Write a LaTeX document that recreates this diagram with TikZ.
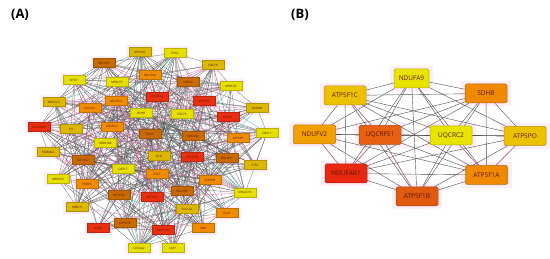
\documentclass[tikz,border=0pt]{standalone}
\usepackage{fontspec}
\setsansfont{Open Sans}
\pgfdeclarelayer{glow}
\pgfdeclarelayer{edges}
\pgfsetlayers{glow,edges,main}
\definecolor{cY}{HTML}{E6E000}
\definecolor{cG}{HTML}{DDB800}
\definecolor{cO}{HTML}{F08C00}
\definecolor{cD}{HTML}{C86A00}
\definecolor{cR}{HTML}{E83010}
\definecolor{bY}{HTML}{E8E400}
\definecolor{bG}{HTML}{ECC200}
\definecolor{bO}{HTML}{F08800}
\definecolor{bL}{HTML}{F2A000}
\definecolor{bOR}{HTML}{E86010}
\definecolor{bR}{HTML}{E82810}
\definecolor{bRO}{HTML}{E05A10}
\definecolor{glowpink}{HTML}{FDEDF9}
\definecolor{epink}{HTML}{E070A8}
\definecolor{eteal}{HTML}{40C0B0}
\definecolor{txt}{HTML}{5A1400}
\tikzset{
  anode/.style={rectangle, minimum width=22pt, minimum height=9pt, inner sep=0.3pt,
    font=\fontsize{3}{3}\selectfont\sffamily, text=txt, fill=#1, draw=#1!80!black, line width=0.3pt},
  bnode/.style={rectangle, rounded corners=1.5pt, minimum width=42pt, minimum height=19pt, inner sep=1pt,
    font=\fontsize{6.5}{7}\selectfont\sffamily, text=txt, fill=#1, draw=#1!75!black, line width=0.5pt},
  aedge/.style={draw=black!65, line width=0.25pt},
  apink/.style={draw=epink, line width=0.3pt},
  ateal/.style={draw=eteal, line width=0.3pt},
  bedge/.style={draw=black!70, line width=0.4pt},
  bpink/.style={draw=epink, line width=0.45pt},
  panellabel/.style={font=\fontsize{13}{13}\selectfont\sffamily\bfseries, text=black}
}
\begin{document}
\begin{tikzpicture}[x=1pt,y=-1pt]
\useasboundingbox (0,0) rectangle (550,259);
\node[panellabel] (labA) at (20,15) {(A)};
\node[panellabel] (labB) at (300,15) {(B)};
% ---------- panel A ----------
\foreach \x/\y/\c/\t [count=\i] in {
 140/52/cG/ATP5MC, 175/53/cY/PPA2, 104/63/cD/NDUFS5, 213/65/cG/COX7B,
 150/75/cO/NDUFA4, 74/80/cY/NFU1, 117/82/cY/MRPL57, 188/82/cD/COX5A,
 231/86/cY/MRPL35, 54/102/cG/NDUFC2, 116/101/cO/NDUFS4, 157/97/cR/UQCRFS1,
 204/101/cR/ATP5PO, 90/108/cO/SUCLG1, 257/108/cG/HADHB, 141/113/cY/PDHB,
 182/114/cY/COX7C, 228/117/cR/PDHA1, 39/127/cR/NDUFAB1, 71/129/cG/FH,
 112/127/cO/UQCRC2, 150/134/cD/SDHC, 193/136/cD/NDUFA9, 238/138/cO/ATP5PF,
 267/133/cY/COX11, 105/143/cY/TIMM10B, 48/152/cG/TOMM22, 83/160/cD/NDUFS2,
 159/156/cG/DLD, 192/157/cR/ATP5F1B, 227/158/cD/NDUFS1, 255/165/cG/ETFA,
 123/169/cY/COX17, 157/174/cO/CYC1, 210/180/cO/ATP5PB, 58/179/cY/MRPS23,
 87/184/cO/PRDX3, 119/195/cD/NDUFB3, 182/191/cD/NDUFB7, 152/197/cR/ATP5F1E,
 245/193/cY/DNAJC19, 77/207/cG/MRPL3, 187/209/cG/SUCLA2, 227/213/cO/DLAT,
 98/228/cR/SDHB, 125/223/cD/ATP5F1C, 163/230/cR/ATP5F1D, 203/228/cO/UBB,
 139/248/cY/SUCLG2, 173/248/cY/SKP1}
{
  \node[anode=\c] (a\i) at (\x,\y) {\t};
  \begin{pgfonlayer}{glow}
    \fill[glowpink] (\x-14,\y-7) rectangle (\x+14,\y+7);
  \end{pgfonlayer}
}
\pgfmathsetseed{11}
\begin{pgfonlayer}{edges}
\foreach \i in {1,...,49}{
  \pgfmathtruncatemacro\s{\i+1}
  \foreach \j in {\s,...,50}{
    \pgfmathsetmacro\r{rnd}
    \ifdim\r pt<0.04pt
      \draw[apink] (a\i) -- (a\j);
    \else\ifdim\r pt<0.052pt
      \draw[ateal] (a\i) -- (a\j);
    \else\ifdim\r pt<0.34pt
      \draw[aedge] (a\i) -- (a\j);
    \fi\fi\fi
  }
}
\end{pgfonlayer}
% ---------- panel B ----------
\node[bnode=bY, minimum width=35pt] (b1) at (411.5,78.5) {NDUFA9};
\node[bnode=bG] (b2) at (345,95.5) {ATP5F1C};
\node[bnode=bO] (b3) at (486,93.5) {SDHB};
\node[bnode=bL] (b4) at (314.5,134.5) {NDUFV2};
\node[bnode=bOR] (b5) at (380,135) {UQCRFS1};
\node[bnode=bY] (b6) at (451,135.5) {UQCRC2};
\node[bnode=bG] (b7) at (525,136) {ATP5PO};
\node[bnode=bR] (b8) at (346,173.5) {NDUFAB1};
\node[bnode=bO] (b9) at (486.5,175) {ATP5F1A};
\node[bnode=bRO] (b10) at (417,196.5) {ATP5F1B};
\begin{pgfonlayer}{glow}
\foreach \n in {b1,b2,b3,b4,b5,b6,b7,b8,b9,b10}{
  \fill[glowpink] ([shift={(-4pt,-3pt)}]\n.south west) rectangle ([shift={(4pt,3pt)}]\n.north east);
}
\end{pgfonlayer}
\begin{pgfonlayer}{edges}
\foreach \i in {1,...,9}{
  \pgfmathtruncatemacro\s{\i+1}
  \foreach \j in {\s,...,10}{
    \draw[bedge] (b\i) -- (b\j);
  }
}
\foreach \p/\q in {b2/b5, b5/b8, b4/b8, b5/b10, b6/b9, b7/b9}{
  \draw[bpink] (\p) -- (\q);
}
\end{pgfonlayer}
\end{tikzpicture}
\end{document}
